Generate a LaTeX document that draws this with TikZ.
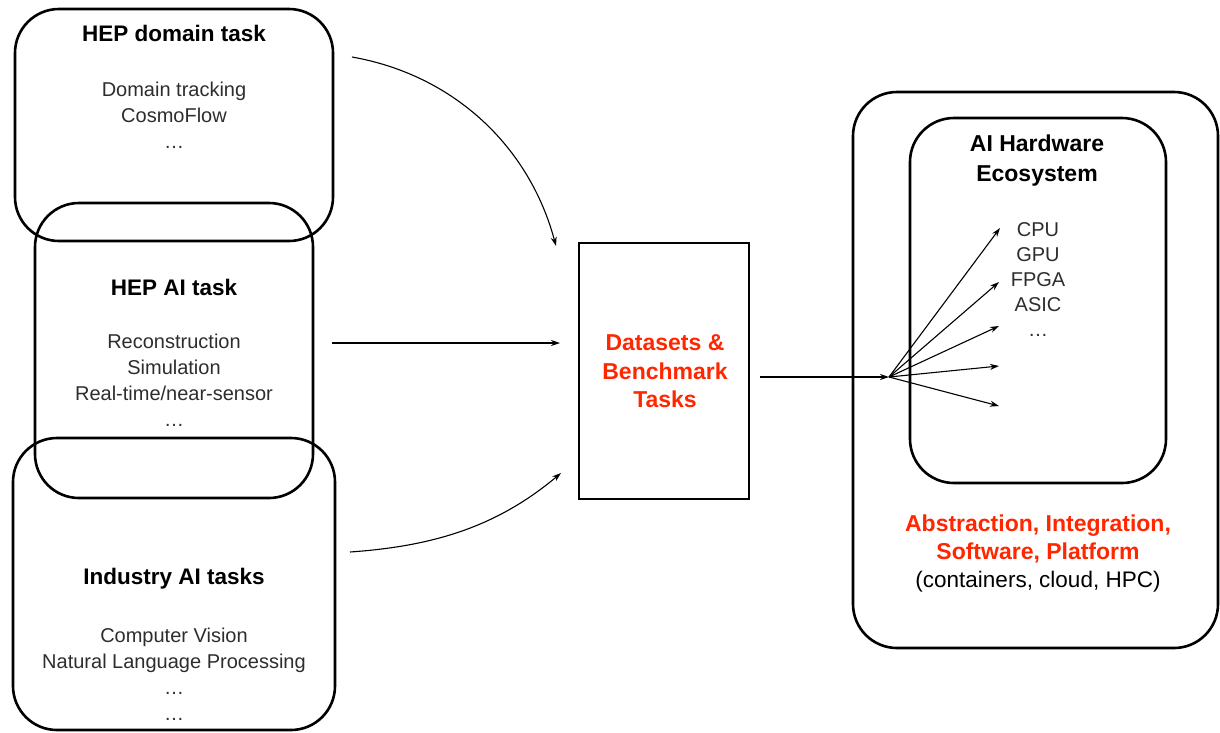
\documentclass[tikz,border=0pt]{standalone}
\usepackage{fontspec}
\setmainfont{Liberation Sans}
\usetikzlibrary{arrows.meta}
\definecolor{kred}{RGB}{255,38,0}
\definecolor{ktext}{RGB}{45,45,45}
\begin{document}
\begin{tikzpicture}[x=1pt,y=1pt,
 rbox/.style={draw=black, line width=2.6pt, rounded corners=44pt, inner sep=0pt, outer sep=0pt},
 sbox/.style={draw=black, line width=2.8pt, inner sep=0pt, outer sep=0pt},
 ttl/.style={font=\fontsize{22.5}{28}\selectfont\bfseries, align=center, inner sep=0pt},
 lst/.style={font=\fontsize{20}{26}\selectfont, text=ktext, align=center, inner sep=0pt},
 redtxt/.style={font=\fontsize{23}{28.5}\selectfont\bfseries, text=kred, align=center, inner sep=0pt},
 arr/.style={line width=1.1pt, -{Stealth[length=9pt,width=6pt]}}
]
\useasboundingbox (0,0) rectangle (1220,-732);

% left boxes
\node[rbox, minimum width=318, minimum height=232] (dom) at (174,-125) {};
\node[rbox, minimum width=278, minimum height=295] (ai) at (174,-350.5) {};
\node[rbox, minimum width=322, minimum height=292] (ind) at (174,-584) {};

\node[ttl] (domt) at (174,-33) {HEP domain task};
\node[lst] (doml) at (174,-115) {Domain tracking\\CosmoFlow\\…};

\node[ttl] (ait) at (174,-287) {HEP AI task};
\node[lst] (ail) at (174,-380.5) {Reconstruction\\Simulation\\Real-time/near-sensor\\…};

\node[ttl] (indt) at (174,-579) {Industry AI tasks};
\node[lst] (indl) at (174,-674.5) {Computer Vision\\Natural Language Processing\\…\\…};

% center box
\node[sbox, minimum width=170, minimum height=256] (ds) at (664,-371) {};
\node[redtxt] (dst) at (665,-371.5) {Datasets \&\\Benchmark\\Tasks};

% right boxes
\node[rbox, minimum width=365, minimum height=556] (outer) at (1035.5,-370) {};
\node[rbox, minimum width=256, minimum height=365] (inner) at (1038,-300.5) {};
\node[ttl, font=\fontsize{23}{30}\selectfont\bfseries] (hw) at (1037,-161) {AI Hardware\\Ecosystem};
\node[lst, font=\fontsize{20}{25}\selectfont] (hwl) at (1038,-280) {CPU\\GPU\\FPGA\\ASIC\\…};
\node[redtxt] (abs) at (1038,-539) {Abstraction, Integration,\\Software, Platform};
\node[lst, font=\fontsize{22.5}{28}\selectfont, text=black] (cont) at (1038,-582) {(containers, cloud, HPC)};

% connectors
\coordinate (s1) at (352,-57);
\coordinate (e1) at (556,-246);
\coordinate (s2) at (332,-343);
\coordinate (e2) at (560,-343);
\coordinate (s3) at (350,-552);
\coordinate (e3) at (561,-473);
\coordinate (s4) at (760,-377);
\coordinate (fan) at (889,-377);
\coordinate (f1) at (1000,-228);
\coordinate (f2) at (999,-282);
\coordinate (f3) at (999,-326);
\coordinate (f4) at (999,-366);
\coordinate (f5) at (999,-406);

\draw[arr] (s1) to[out=-10, in=105, looseness=0.95] (e1);
\draw[arr] (s2) -- (e2);
\draw[arr] (s3) to[out=4, in=220, looseness=0.95] (e3);
\draw[arr] (s4) -- (fan);
\foreach \f in {f1,f2,f3,f4,f5} \draw[arr] (fan) -- (\f);
\end{tikzpicture}
\end{document}
